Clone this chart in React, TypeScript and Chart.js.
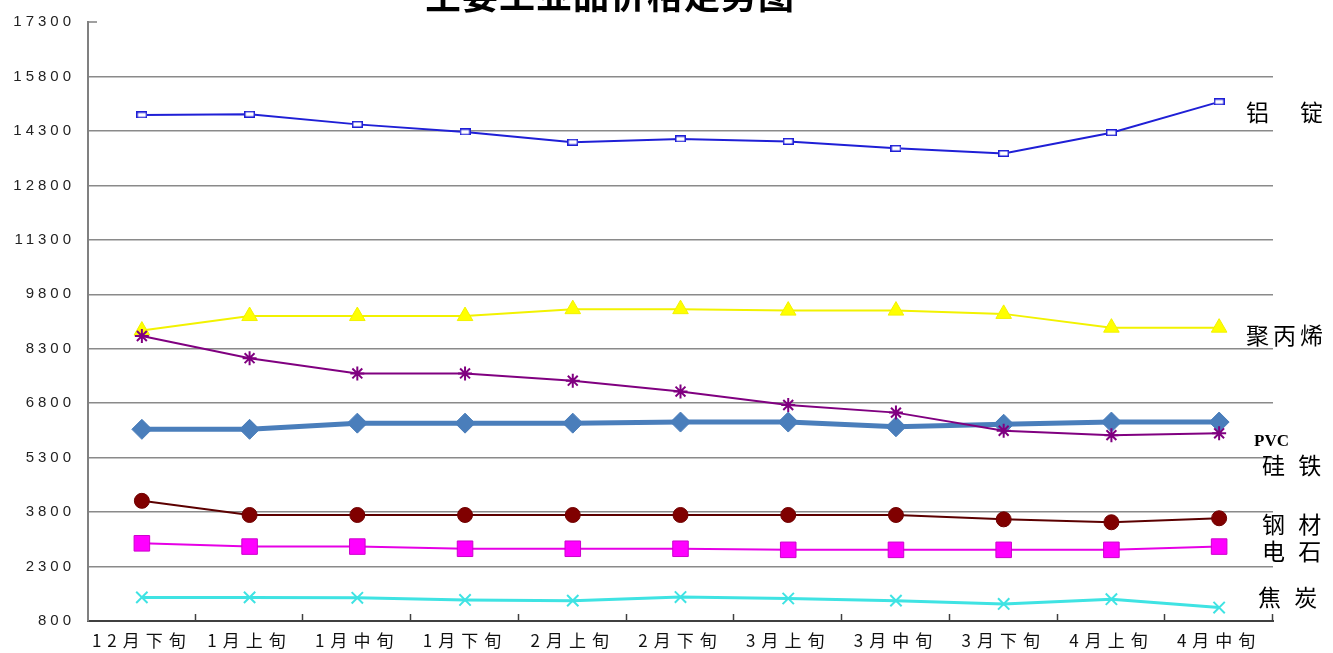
import React, { useEffect, useRef } from 'react';
import { Chart, registerables } from 'chart.js';

Chart.register(...registerables);

const TITLE = '主要工业品价格走势图';
const CATEGORIES = ['12月下旬', '1月上旬', '1月中旬', '1月下旬', '2月上旬', '2月下旬', '3月上旬', '3月中旬', '3月下旬', '4月上旬', '4月中旬'];

const ALUMINUM = [14740, 14760, 14480, 14270, 13990, 14080, 14010, 13820, 13680, 14250, 15100];
const POLYPROPYLENE = [8800, 9200, 9200, 9200, 9390, 9390, 9350, 9350, 9260, 8880, 8880];
const FERROSILICON = [8650, 8040, 7620, 7620, 7420, 7120, 6750, 6540, 6040, 5920, 5970];
const PVC = [6080, 6080, 6250, 6250, 6250, 6280, 6280, 6150, 6220, 6280, 6280];
const STEEL = [4110, 3720, 3720, 3720, 3720, 3720, 3720, 3720, 3600, 3520, 3630];
const CARBIDE = [2940, 2850, 2850, 2790, 2790, 2790, 2760, 2760, 2760, 2760, 2850];
const COKE = [1450, 1450, 1440, 1380, 1360, 1460, 1420, 1360, 1270, 1400, 1170];

const SERIES_NAMES = ['铝　锭', '聚丙烯', '硅 铁', 'PVC', '钢 材', '电 石', '焦 炭'];
const Y_MIN = 800;
const Y_MAX = 17300;
const Y_STEP = 1500;

// right-hand label anchors (value on y scale, x offset from plot right edge)
const RIGHT_LABEL_VALUES = [14821, 8677, 5096, 5729, 3470, 2726, 1459];
const RIGHT_LABEL_DX = [-27, -27, -11, -19, -11, -11, -15];

function flatRect(color: string): HTMLCanvasElement {
  const c = document.createElement('canvas');
  c.width = 11;
  c.height = 7;
  const g = c.getContext('2d')!;
  g.fillStyle = '#ffffff';
  g.fillRect(0, 0, 11, 7);
  g.strokeStyle = color;
  g.lineWidth = 1.5;
  g.strokeRect(0.75, 0.75, 9.5, 5.5);
  return c;
}

function spacedLabels(s: any, spacing: string) {
  if (s.__spaced === spacing) return;
  const orig = s.__origDrawLabels || s.drawLabels;
  s.__origDrawLabels = orig;
  s.__spaced = spacing;
  s.drawLabels = function (area: any) {
    const ctx = this.ctx;
    ctx.save();
    ctx.letterSpacing = spacing;
    orig.call(this, area);
    ctx.restore();
  };
}

const decorPlugin = {
  id: 'decor',
  beforeDraw(chart: any) {
    const ctx = chart.ctx;
    ctx.save();
    ctx.fillStyle = '#ffffff';
    ctx.fillRect(0, 0, chart.width, chart.height);
    ctx.restore();
  },
  afterDraw(chart: any) {
    const ctx = chart.ctx;
    const area = chart.chartArea;
    const ys = chart.scales.y;
    ctx.save();
    // inner tick marks on x axis
    ctx.strokeStyle = '#404040';
    ctx.lineWidth = 1.5;
    const n = CATEGORIES.length;
    const step = (area.right - area.left) / n;
    for (let k = 1; k <= n; k++) {
      const x = Math.round(area.left + k * step) - 0.5;
      ctx.beginPath();
      ctx.moveTo(x, area.bottom);
      ctx.lineTo(x, area.bottom - 7);
      ctx.stroke();
    }
    // top tick on y axis
    const yTop = ys.getPixelForValue(Y_MAX);
    ctx.strokeStyle = '#808080';
    ctx.beginPath();
    ctx.moveTo(area.left, yTop);
    ctx.lineTo(area.left + 9, yTop);
    ctx.stroke();

    // title (partly cut by top edge)
    ctx.letterSpacing = '1px';
    ctx.fillStyle = '#000000';
    ctx.font = 'bold 36px "Noto Sans CJK SC"';
    ctx.textAlign = 'center';
    ctx.textBaseline = 'alphabetic';
    ctx.fillText(TITLE, chart.width * 0.4577, 9);

    // right labels
    ctx.textAlign = 'left';
    ctx.textBaseline = 'middle';
    SERIES_NAMES.forEach((name, i) => {
      const y = ys.getPixelForValue(RIGHT_LABEL_VALUES[i]);
      const x = area.right + RIGHT_LABEL_DX[i];
      if (name === 'PVC') {
        ctx.letterSpacing = '0px';
        ctx.font = 'bold 17px "Liberation Serif"';
      } else {
        ctx.letterSpacing = '4px';
        ctx.font = '23px "Noto Sans CJK SC"';
      }
      ctx.fillText(name, x, y);
    });
    ctx.restore();
  },
};

export default function App() {
  const ref = useRef<HTMLCanvasElement | null>(null);

  useEffect(() => {
    if (!ref.current) return;
    const blueRect = flatRect('#1F1FD6');
    const chart = new Chart(ref.current, {
      type: 'line',
      data: {
        labels: CATEGORIES,
        datasets: [
          {
            label: SERIES_NAMES[0],
            data: ALUMINUM,
            borderColor: '#1F1FD6',
            borderWidth: 2,
            pointStyle: blueRect as any,
            pointRadius: 4,
            order: 1,
          },
          {
            label: SERIES_NAMES[1],
            data: POLYPROPYLENE,
            borderColor: '#F2F200',
            backgroundColor: '#FFFF00',
            borderWidth: 2,
            pointStyle: 'triangle',
            pointRadius: 9,
            pointBorderWidth: 1,
            pointBorderColor: '#F2F200',
            pointBackgroundColor: '#FFFF00',
            order: 4,
          },
          {
            label: SERIES_NAMES[2],
            data: FERROSILICON,
            borderColor: '#800080',
            borderWidth: 2,
            pointStyle: 'star',
            pointRadius: 7,
            pointBorderWidth: 2,
            pointBorderColor: '#800080',
            pointBackgroundColor: '#800080',
            order: 2,
          },
          {
            label: SERIES_NAMES[3],
            data: PVC,
            borderColor: '#4A7EBB',
            borderWidth: 5,
            pointStyle: 'rectRot',
            pointRadius: 10,
            pointBorderWidth: 1,
            pointBorderColor: '#4A7EBB',
            pointBackgroundColor: '#4A7EBB',
            order: 5,
          },
          {
            label: SERIES_NAMES[4],
            data: STEEL,
            borderColor: '#5C0000',
            borderWidth: 2,
            pointStyle: 'circle',
            pointRadius: 7.5,
            pointBorderWidth: 1,
            pointBorderColor: '#700000',
            pointBackgroundColor: '#800000',
            order: 3,
          },
          {
            label: SERIES_NAMES[5],
            data: CARBIDE,
            borderColor: '#E600E6',
            borderWidth: 2,
            pointStyle: 'rect',
            pointRadius: 11,
            pointBorderWidth: 1,
            pointBorderColor: '#CC00CC',
            pointBackgroundColor: '#FF00FF',
            order: 3,
          },
          {
            label: SERIES_NAMES[6],
            data: COKE,
            borderColor: '#3FE3E3',
            borderWidth: 3,
            pointStyle: 'crossRot',
            pointRadius: 8,
            pointBorderWidth: 2,
            pointBorderColor: '#3FE3E3',
            order: 3,
          },
        ],
      },
      options: {
        animation: false,
        responsive: false,
        devicePixelRatio: 1,
        layout: { padding: { top: 22, right: 60, left: 0, bottom: 0 } },
        plugins: {
          legend: { display: false },
          tooltip: { enabled: false },
          title: { display: false },
        },
        elements: { line: { tension: 0 } },
        scales: {
          x: {
            offset: true,
            grid: { display: true, drawOnChartArea: false, drawTicks: false },
            border: { display: true, color: '#404040', width: 2 },
            ticks: {
              color: '#111111',
              font: { family: '"Noto Sans CJK SC"', size: 17 },
              padding: 9,
              maxRotation: 0,
              autoSkip: false,
            },
            afterFit: (s: any) => {
              s.height = 32;
              spacedLabels(s, '6px');
            },
          },
          y: {
            min: Y_MIN,
            max: Y_MAX,
            ticks: {
              stepSize: Y_STEP,
              color: '#222222',
              font: { family: '"Liberation Sans"', size: 15 },
              padding: 13,
              callback: (v: any) => String(v),
            },
            grid: {
              drawTicks: false,
              color: (c: any) =>
                c.tick && (c.tick.value === Y_MAX || c.tick.value === Y_MIN) ? 'rgba(0,0,0,0)' : '#8A8A8A',
              lineWidth: 1.5,
            },
            border: { display: true, color: '#808080', width: 2 },
            afterFit: (s: any) => {
              s.width = 88;
              spacedLabels(s, '4px');
            },
          },
        },
      },
      plugins: [decorPlugin],
    });
    return () => chart.destroy();
  }, []);

  return (
    <div style={{ position: 'fixed', left: 0, top: 0, width: 1333, height: 653, background: '#fff' }}>
      <canvas ref={ref} width={1333} height={653} style={{ width: 1333, height: 653, display: 'block' }} />
    </div>
  );
}
